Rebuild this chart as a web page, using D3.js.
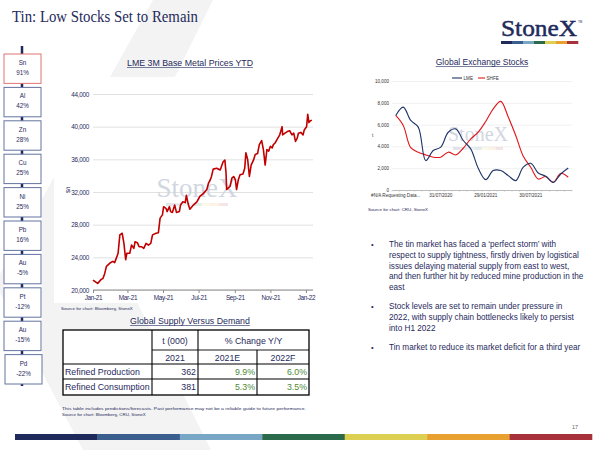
<!DOCTYPE html>
<html>
<head>
<meta charset="utf-8">
<script src="https://cdn.jsdelivr.net/npm/d3@7"></script>
<style>
  body { margin: 0; background: #fff; }
  svg { display: block; font-family: "Liberation Sans", Arial, sans-serif; }
</style>
</head>
<body>
<div id="chart"></div>
<script>
// ---- data ----
const metals = ["Sn", "Al", "Zn", "Cu", "Ni", "Pb", "Au", "Pt", "Au", "Pd"];
const metalChange = ["91%", "42%", "28%", "25%", "25%", "16%", "-5%", "-12%", "-15%", "-22%"];

// LME 3M tin, $/t
const priceDates = [
  "2021-01-01","2021-01-09","2021-01-15","2021-01-18","2021-01-21","2021-01-24","2021-01-30","2021-02-04",
  "2021-02-07","2021-02-10","2021-02-13","2021-02-16","2021-02-20","2021-02-23","2021-02-26","2021-02-28",
  "2021-03-05","2021-03-08","2021-03-12","2021-03-14","2021-03-18","2021-03-21","2021-03-25","2021-03-29",
  "2021-04-02","2021-04-06","2021-04-10","2021-04-13","2021-04-19","2021-04-23","2021-04-26","2021-04-30",
  "2021-05-02","2021-05-06","2021-05-08","2021-05-12","2021-05-14","2021-05-17","2021-05-21","2021-05-24",
  "2021-05-29","2021-05-31","2021-06-04","2021-06-08","2021-06-10","2021-06-13","2021-06-16","2021-06-22",
  "2021-06-28","2021-07-03","2021-07-09","2021-07-15","2021-07-18","2021-07-21","2021-07-23","2021-07-26",
  "2021-08-01","2021-08-07","2021-08-10","2021-08-12","2021-08-15","2021-08-17","2021-08-18","2021-08-24",
  "2021-08-27","2021-08-30","2021-09-02","2021-09-04","2021-09-07","2021-09-10","2021-09-15","2021-09-18",
  "2021-09-20","2021-09-23","2021-09-26","2021-09-29","2021-10-03","2021-10-06","2021-10-10","2021-10-13",
  "2021-10-17","2021-10-20","2021-10-23","2021-10-26","2021-10-29","2021-11-01","2021-11-04","2021-11-06",
  "2021-11-09","2021-11-13","2021-11-17","2021-11-21","2021-11-22","2021-11-26","2021-11-30","2021-12-04",
  "2021-12-08","2021-12-11","2021-12-14","2021-12-17","2021-12-19","2021-12-23","2021-12-27","2021-12-29",
  "2022-01-02","2022-01-04","2022-01-06","2022-01-08","2022-01-11"
];
const priceValues = [
  21200,20800,21300,21400,22000,22900,23300,23500,
  23350,23900,24500,26750,26950,25700,23700,24500,
  24500,25500,25100,25900,25800,25300,25300,25100,
  25700,25500,25700,26750,26950,27000,28800,29200,
  30200,30000,29600,30200,29600,29500,30400,29500,
  29600,30400,30800,30700,31600,30550,29900,30400,
  30800,31450,31800,32300,33100,33500,33900,34800,
  34900,34700,35300,35700,35900,34300,32300,32700,
  33700,33900,33500,32300,33500,34100,34200,34900,
  36800,36000,33900,35300,35900,36600,36700,37800,
  38300,37200,35300,37200,37000,37600,37400,37800,
  38000,38500,39000,40000,39000,39200,39400,39500,
  39000,39200,38200,38600,39200,39300,39000,39600,
  40000,41500,40500,40700,40800
];
const priceYTicks = [20000, 24000, 28000, 32000, 36000, 40000, 44000];
const priceXTicks = ["2021-01-01","2021-03-01","2021-05-01","2021-07-01","2021-09-01","2021-11-01","2022-01-01"];
const priceXLabels = ["Jan-21","Mar-21","May-21","Jul-21","Sep-21","Nov-21","Jan-22"];

// Global exchange stocks, t
const stockMonths = [
  "#N/A Requesting Data...","28/02/2020","31/03/2020","30/04/2020","29/05/2020","30/06/2020",
  "31/07/2020","31/08/2020","30/09/2020","30/10/2020","30/11/2020","31/12/2020",
  "29/01/2021","26/02/2021","31/03/2021","30/04/2021","31/05/2021","30/06/2021",
  "30/07/2021","31/08/2021","30/09/2021","29/10/2021","30/11/2021","31/12/2021"
];
const lmeStocks = [6840,7600,6380,5770,2700,3620,3930,5300,5610,4540,3770,1990,
                   950,1780,1780,1320,860,2090,2450,1560,1260,700,1470,2020];
const shfeStocks = [6840,5920,3880,3470,3220,3010,3010,3470,3220,3830,4690,5310,
                    6290,7450,8130,6690,5000,3100,2090,1010,1230,700,1530,1170];
const stockYTicks = [0, 2000, 4000, 6000, 8000, 10000];
const stockXTicks = ["#N/A Requesting Data...", "31/07/2020", "29/01/2021", "30/07/2021"];

// supply / demand table
const tableRows = ["Refined Production", "Refined Consumption"];
const tonnes2021 = ["362", "381"];
const change2021E = ["9.9%", "5.3%"];
const change2022F = ["6.0%", "3.5%"];

const bullets = [
  ["The tin market has faced a \u2018perfect storm\u2019 with",
   "respect to supply tightness, firstly driven by logistical",
   "issues delaying material supply from east to west,",
   "and then further hit by reduced mine production in the",
   "east"],
  ["Stock levels are set to remain under pressure in",
   "2022, with supply chain bottlenecks likely to persist",
   "into H1 2022"],
  ["Tin market to reduce its market deficit for a third year"]
];

const brandColors = ["#1f2a5c", "#3a5f8f", "#78a7c6", "#2b6a4a", "#dccf52", "#e8a030", "#a8323a"];
const navy = "#1f2a5c";

// ---- page ----
const W = 600, H = 450;
const svg = d3.select("#chart").append("svg").attr("width", W).attr("height", H);

// faint background chevron
svg.append("path")
  .attr("d", "M153,0 L213,0 L100,228 L211,450 L83,450 L-5,283 Z")
  .attr("fill", "#f3f3f3");

// white panes over the chevron
svg.append("rect").attr("x", 54).attr("y", 77).attr("width", 276).attr("height", 226).attr("fill", "#fff");
svg.append("rect").attr("x", 4).attr("y", 46).attr("width", 38).attr("height", 340).attr("fill", "#fff");

// title
svg.append("text").attr("x", 12).attr("y", 22)
  .attr("font-family", "'Liberation Serif', 'Times New Roman', serif")
  .attr("font-size", 16.5).attr("fill", navy)
  .attr("textLength", 186).attr("lengthAdjust", "spacingAndGlyphs")
  .text("Tin: Low Stocks Set to Remain");

// logo
svg.append("text").attr("x", 501).attr("y", 36)
  .attr("font-family", "'Liberation Serif', 'Times New Roman', serif")
  .attr("font-size", 24).attr("fill", navy).attr("stroke", navy).attr("stroke-width", 0.5)
  .attr("textLength", 76).attr("lengthAdjust", "spacingAndGlyphs")
  .text("StoneX");
svg.append("text").attr("x", 578).attr("y", 23).attr("font-size", 3).attr("fill", navy).text("TM");
const logoBar = d3.scaleBand().domain(d3.range(7)).range([501, 578]);
svg.append("g").selectAll("rect").data(brandColors).join("rect")
  .attr("x", (d, i) => logoBar(i)).attr("y", 41).attr("width", logoBar.bandwidth() + 0.3).attr("height", 3)
  .attr("fill", d => d);

// sidebar
svg.append("line").attr("x1", 22).attr("x2", 22).attr("y1", 46).attr("y2", 386)
  .attr("stroke", navy).attr("stroke-width", 2.5);
const side = d3.scaleBand().domain(d3.range(metals.length)).range([54, 384]).paddingInner(0.12);
const sideG = svg.append("g").selectAll("g").data(metals).join("g")
  .attr("transform", (d, i) => `translate(${i === metals.length - 1 ? 5 : 4},${side(i)})`);
sideG.append("rect").attr("width", 37).attr("height", side.bandwidth())
  .attr("fill", "#fff")
  .attr("stroke", (d, i) => i === 0 ? "#e07575" : "#6474a0").attr("stroke-width", 1);
sideG.append("text").attr("x", 18.5).attr("y", 11).attr("text-anchor", "middle")
  .attr("font-size", 6.3).attr("fill", navy).text(d => d);
sideG.append("text").attr("x", 18.5).attr("y", 21).attr("text-anchor", "middle")
  .attr("font-size", 6.3).attr("fill", navy).text((d, i) => metalChange[i]);

function underlinedTitle(x, y, txt, size) {
  const t = svg.append("text").attr("x", x).attr("y", y).attr("text-anchor", "middle")
    .attr("font-size", size).attr("fill", navy).text(txt);
  const w = t.node().getComputedTextLength();
  svg.append("line").attr("x1", x - w / 2).attr("x2", x + w / 2)
    .attr("y1", y + 1.5).attr("y2", y + 1.5).attr("stroke", navy).attr("stroke-width", 0.6);
}

function watermark(x, y, size, barW) {
  svg.append("text").attr("x", x).attr("y", y).attr("text-anchor", "middle")
    .attr("font-family", "'Liberation Serif', 'Times New Roman', serif")
    .attr("font-size", size).attr("fill", "#cdd3de").attr("opacity", 0.9).text("StoneX");
  const b = d3.scaleBand().domain(d3.range(7)).range([x - barW / 2, x + barW / 2]);
  svg.append("g").selectAll("rect").data(brandColors).join("rect")
    .attr("x", (d, i) => b(i)).attr("y", y + 6).attr("width", b.bandwidth()).attr("height", 3)
    .attr("fill", d => d).attr("opacity", 0.12);
}

// ---- LME price chart ----
underlinedTitle(190, 66, "LME 3M Base Metal Prices YTD", 8.8);

const parse = d3.timeParse("%Y-%m-%d");
const px = d3.scaleTime().domain([parse("2021-01-01"), parse("2022-01-01")]).range([93, 306]);
const py = d3.scaleLinear().domain([20000, 44000]).range([290, 94]);

const pyAxis = svg.append("g").attr("transform", "translate(93,0)")
  .call(d3.axisLeft(py).tickValues(priceYTicks).tickSize(-220).tickPadding(4).tickFormat(d3.format(",")));
pyAxis.select(".domain").remove();
pyAxis.selectAll(".tick line").attr("stroke", "#d9d9d9").attr("stroke-width", 0.8);
pyAxis.selectAll("text").attr("font-size", 6.4).attr("fill", navy)
  .attr("font-family", "'Liberation Sans Narrow', 'Liberation Sans', sans-serif").attr("letter-spacing", -0.3);

watermark(197, 197, 27, 62);

const pxAxis = svg.append("g").attr("transform", "translate(0,290)")
  .call(d3.axisBottom(px).tickValues(priceXTicks.map(parse)).tickSize(3).tickPadding(2)
    .tickFormat((d, i) => priceXLabels[i]));
pxAxis.select(".domain").attr("stroke", "#8c8c8c").attr("d", "M93,0H313");
pxAxis.selectAll(".tick line").attr("stroke", "#8c8c8c");
pxAxis.selectAll("text").attr("font-size", 6.4).attr("fill", navy).attr("letter-spacing", -0.3);

svg.append("text").attr("transform", "translate(70,190) rotate(-90)").attr("text-anchor", "middle")
  .attr("font-size", 5.5).attr("fill", navy).text("$/t");

const priceData = priceDates.map((d, i) => ({ date: parse(d), value: priceValues[i] }));
svg.append("path").datum(priceData)
  .attr("fill", "none").attr("stroke", "#c00000").attr("stroke-width", 1.6).attr("stroke-linejoin", "round")
  .attr("d", d3.line().x(d => px(d.date)).y(d => py(d.value)));

svg.append("text").attr("x", 61).attr("y", 310).attr("font-size", 4.4).attr("fill", navy)
  .text("Source for chart: Bloomberg, StoneX");

// ---- exchange stocks chart ----
underlinedTitle(482, 65, "Global Exchange  Stocks", 8.5);

const sx = d3.scaleBand().domain(stockMonths).range([392, 572]);
const sy = d3.scaleLinear().domain([0, 10000]).range([190, 81]);
const sxc = d => sx(d) + sx.bandwidth() / 2;

const syAxis = svg.append("g").attr("transform", "translate(392,0)")
  .call(d3.axisLeft(sy).tickValues(stockYTicks).tickSize(-180).tickPadding(3).tickFormat(d3.format(",")));
syAxis.select(".domain").remove();
syAxis.selectAll(".tick line").attr("stroke", "#e6e6e6").attr("stroke-width", 0.6);
syAxis.selectAll("text").attr("font-size", 4.6).attr("fill", "#333");

watermark(478, 141, 20, 50);

const sxAxis = svg.append("g").attr("transform", "translate(0,190)")
  .call(d3.axisBottom(sx).tickValues(stockXTicks).tickSize(0).tickPadding(4));
sxAxis.select(".domain").attr("stroke", "#999").attr("stroke-width", 0.6);
sxAxis.selectAll("text").attr("font-size", 4.6).attr("fill", "#333");
svg.append("g").selectAll("line").data(stockMonths).join("line")
  .attr("x1", d => sx(d)).attr("x2", d => sx(d)).attr("y1", 190).attr("y2", 192)
  .attr("stroke", "#bbb").attr("stroke-width", 0.4);

svg.append("text").attr("x", 372).attr("y", 137).attr("font-size", 4.6).attr("fill", "#333").text("t");

const stockLine = d3.line().x((d, i) => sxc(stockMonths[i])).y(d => sy(d)).curve(d3.curveCatmullRom.alpha(0.5));
svg.append("path").datum(shfeStocks).attr("fill", "none").attr("stroke", "#e0181b").attr("stroke-width", 1.1)
  .attr("d", stockLine);
svg.append("path").datum(lmeStocks).attr("fill", "none").attr("stroke", "#1f3466").attr("stroke-width", 1.1)
  .attr("d", stockLine);

// legend
const legend = svg.append("g").attr("font-size", 4.6).attr("fill", "#333");
[["LME", "#1f3466", 452, 10], ["SHFE", "#e0181b", 478, 7]].forEach(([name, c, x, w]) => {
  legend.append("line").attr("x1", x).attr("x2", x + w).attr("y1", 78).attr("y2", 78)
    .attr("stroke", c).attr("stroke-width", 1.1);
  legend.append("text").attr("x", x + w + 1.5).attr("y", 79.6).text(name);
});

svg.append("text").attr("x", 368).attr("y", 211).attr("font-size", 4.4).attr("fill", navy)
  .text("Source for chart: CRU, StoneX");

// ---- bullets ----
const bulletTop = [247, 309, 350];
bullets.forEach((lines, bi) => {
  svg.append("text").attr("x", 371).attr("y", bulletTop[bi]).attr("font-size", 7.5).attr("fill", navy).text("\u2022");
  const t = svg.append("text").attr("font-size", 8.2).attr("fill", navy);
  lines.forEach((ln, li) => {
    t.append("tspan").attr("x", 389).attr("y", bulletTop[bi] + li * 10.8).text(ln);
  });
});

// ---- table ----
underlinedTitle(190, 324, "Global Supply Versus Demand", 8.8);

const colX = [63, 152, 198, 257, 309];
const rowY = [330, 350, 364, 379, 395];
const tbl = svg.append("g").attr("font-size", 8.8).attr("fill", navy);
tbl.append("rect").attr("x", colX[0]).attr("y", rowY[0]).attr("width", colX[4] - colX[0]).attr("height", rowY[4] - rowY[0])
  .attr("fill", "#fff").attr("stroke", "#000").attr("stroke-width", 1.3);
const vLines = [[colX[1], rowY[0]], [colX[2], rowY[0]], [colX[3], rowY[1]]];
vLines.forEach(([x, y0]) => tbl.append("line").attr("x1", x).attr("x2", x).attr("y1", y0).attr("y2", rowY[4])
  .attr("stroke", "#000").attr("stroke-width", 1.1));
tbl.append("line").attr("x1", colX[1]).attr("x2", colX[4]).attr("y1", rowY[1]).attr("y2", rowY[1])
  .attr("stroke", "#000").attr("stroke-width", 0.9);
[rowY[2], rowY[3]].forEach(y => tbl.append("line").attr("x1", colX[0]).attr("x2", colX[4]).attr("y1", y).attr("y2", y)
  .attr("stroke", "#000").attr("stroke-width", 1.2));

const cell = (x, y, txt, anchor, fill) => tbl.append("text").attr("x", x).attr("y", y)
  .attr("text-anchor", anchor).attr("fill", fill || navy).text(txt);
cell((colX[1] + colX[2]) / 2, 343.5, "t (000)", "middle");
cell((colX[2] + colX[4]) / 2, 343.5, "% Change Y/Y", "middle");
cell((colX[1] + colX[2]) / 2, 360.5, "2021", "middle");
cell((colX[2] + colX[3]) / 2, 360.5, "2021E", "middle");
cell((colX[3] + colX[4]) / 2, 360.5, "2022F", "middle");
tableRows.forEach((r, i) => {
  const y = rowY[2 + i] + 11;
  cell(colX[0] + 2, y, r, "start");
  cell(colX[2] - 2, y, tonnes2021[i], "end");
  cell(colX[3] - 2, y, change2021E[i], "end", "#4f8a3a");
  cell(colX[4] - 2, y, change2022F[i], "end", "#4f8a3a");
});

svg.append("text").attr("x", 62).attr("y", 410).attr("font-size", 4.4).attr("fill", navy)
  .attr("textLength", 244).attr("lengthAdjust", "spacingAndGlyphs")
  .text("This table includes predictions/forecasts. Past performance may not be a reliable guide to future performance.");
svg.append("text").attr("x", 62).attr("y", 416).attr("font-size", 4.4).attr("fill", navy)
  .text("Source for chart: Bloomberg, CRU, StoneX");

// ---- footer ----
svg.append("text").attr("x", 578).attr("y", 429).attr("text-anchor", "end").attr("font-size", 5.5).attr("fill", "#666").text("17");
const footBar = d3.scaleBand().domain(d3.range(7)).range([15, 592]);
svg.append("g").selectAll("rect").data(brandColors).join("rect")
  .attr("x", (d, i) => footBar(i)).attr("y", 434).attr("width", footBar.bandwidth() + 0.3).attr("height", 6)
  .attr("fill", d => d);
</script>
</body>
</html>
